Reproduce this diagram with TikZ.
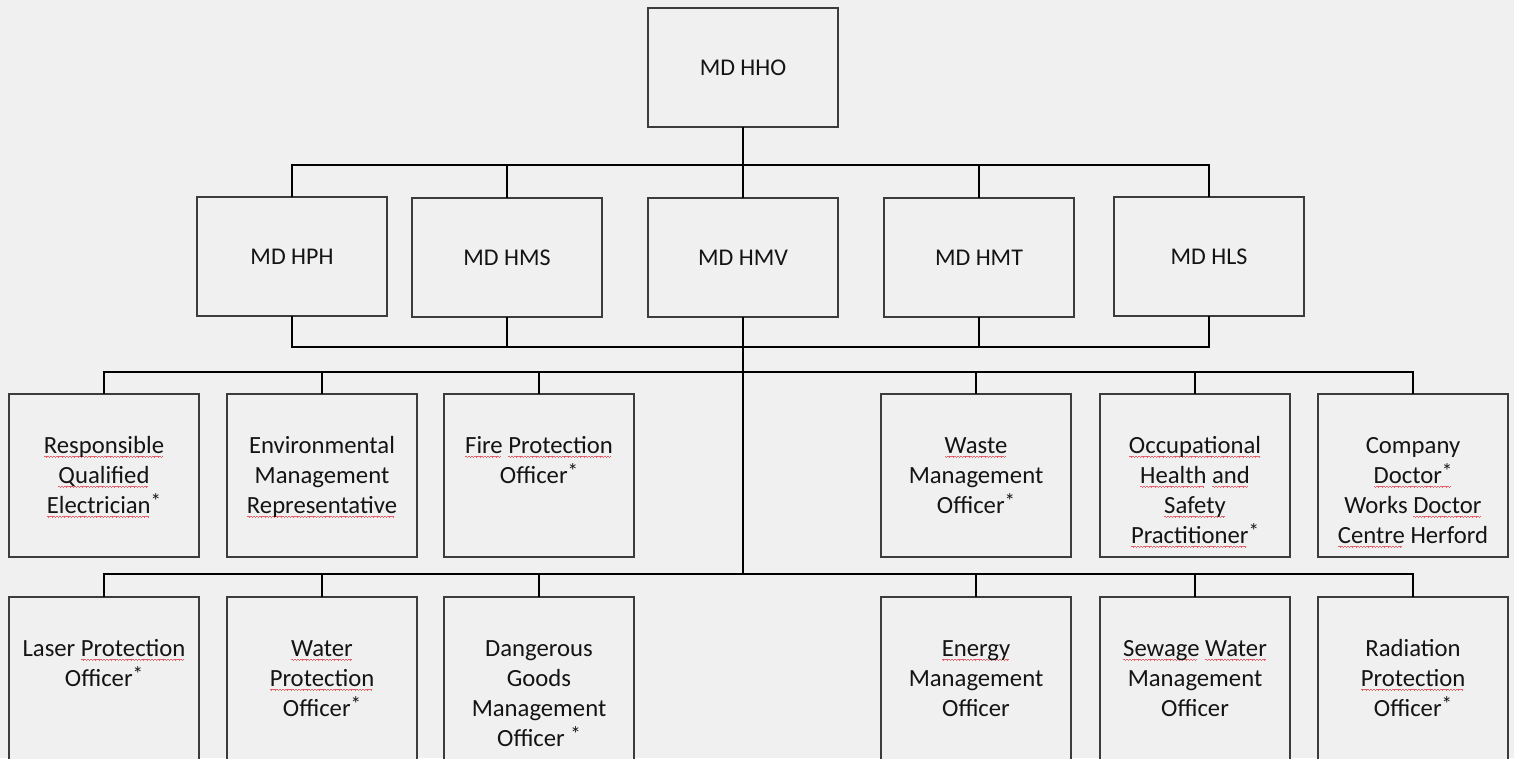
\documentclass[tikz,border=0pt]{standalone}
\usepackage{fontspec}
\setmainfont{Carlito}
\definecolor{bg}{RGB}{240,240,240}
\definecolor{boxline}{RGB}{60,60,60}
\definecolor{txt}{RGB}{20,20,20}
\definecolor{wave}{RGB}{230,95,105}
\newsavebox\spbox
\newcommand\spellmark[1]{\sbox\spbox{#1}\rlap{\hbox to\wd\spbox{\color{wave}\leaders\hbox{\vrule width0.8pt height-2.4pt depth3.4pt\vrule width0.8pt height-3.0pt depth4.0pt\vrule width0.8pt height-3.6pt depth4.6pt\vrule width0.8pt height-3.0pt depth4.0pt}\hfill}}\usebox\spbox}
\newcommand\astr{\raisebox{4.5pt}{\fontsize{21}{21}\selectfont *}}
\begin{document}
\begin{tikzpicture}[x=1pt,y=-1pt,
  box/.style={draw=boxline,line width=1.4pt,fill=bg,minimum width=190pt,anchor=north west,inner sep=0pt,outer sep=0pt},
  mdbox/.style={box,minimum height=119pt,font=\fontsize{24}{29}\selectfont,text=txt},
  rbox/.style={box,minimum height=163pt},
  sbox/.style={box,minimum height=190pt},
  lbl/.style={anchor=north,align=center,inner sep=0pt,font=\fontsize{24.7}{30}\selectfont,text=txt},
  conn/.style={line width=2.7pt,draw=black}]
\useasboundingbox (0,0) rectangle (1514,758);
\fill[bg] (0,0) rectangle (1514,758);
\clip (0,0) rectangle (1514,758);

% level 1
\node[mdbox] (hho) at (648,8) {MD HHO};
% level 2
\node[mdbox] (hph) at (197,197) {MD HPH};
\node[mdbox] (hms) at (412,198) {MD HMS};
\node[mdbox] (hmv) at (648,198) {MD HMV};
\node[mdbox] (hmt) at (884,198) {MD HMT};
\node[mdbox] (hls) at (1114,197) {MD HLS};
% level 3
\node[rbox] (r1) at (9,394) {};
\node[rbox] (r2) at (227,394) {};
\node[rbox] (r3) at (444,394) {};
\node[rbox] (r4) at (881,394) {};
\node[rbox] (r5) at (1100,394) {};
\node[rbox] (r6) at (1318,394) {};
% level 4
\node[sbox] (s1) at (9,597) {};
\node[sbox] (s2) at (227,597) {};
\node[sbox] (s3) at (444,597) {};
\node[sbox] (s4) at (881,597) {};
\node[sbox] (s5) at (1100,597) {};
\node[sbox] (s6) at (1318,597) {};

% labels
\node[lbl] (l1) at ([yshift=-38pt]r1.north) {\strut\spellmark{Responsible}\\\spellmark{Qualified}\\\spellmark{Electrician}\astr};
\node[lbl] (l2) at ([yshift=-38pt]r2.north) {\strut Environmental\\Management\\\spellmark{Representative}};
\node[lbl] (l3) at ([yshift=-38pt]r3.north) {\strut\spellmark{Fire} \spellmark{Protection}\\Officer\astr};
\node[lbl] (l4) at ([yshift=-38pt]r4.north) {\strut\spellmark{Waste}\\Management\\Officer\astr};
\node[lbl] (l5) at ([yshift=-38pt]r5.north) {\strut\spellmark{Occupational}\\\spellmark{Health} \spellmark{and}\\\spellmark{Safety}\\\spellmark{Practitioner}\astr};
\node[lbl] (l6) at ([yshift=-38pt]r6.north) {\strut Company\\\spellmark{Doctor\astr}\\Works \spellmark{Doctor}\\\spellmark{Centre} Herford};
\node[lbl] (m1) at ([yshift=-38pt]s1.north) {\strut Laser \spellmark{Protection}\\Officer\astr};
\node[lbl] (m2) at ([yshift=-38pt]s2.north) {\strut\spellmark{Water}\\\spellmark{Protection}\\Officer\astr};
\node[lbl] (m3) at ([yshift=-38pt]s3.north) {\strut Dangerous\\Goods\\Management\\Officer \astr};
\node[lbl] (m4) at ([yshift=-38pt]s4.north) {\strut\spellmark{Energy}\\Management\\Officer};
\node[lbl] (m5) at ([yshift=-38pt]s5.north) {\strut\spellmark{Sewage} \spellmark{Water}\\Management\\Officer};
\node[lbl] (m6) at ([yshift=-38pt]s6.north) {\strut Radiation\\\spellmark{Protection}\\Officer\astr};

% buses
\coordinate (t1) at (743,165);
\coordinate (t2) at (743,347);
\coordinate (t3) at (743,372);
\coordinate (t4) at (743,574);

\draw[conn] (hho.south) -- (hmv.north);
\draw[conn] (hph.north) |- (t1) -| (hls.north);
\draw[conn] (hms.north) -- (hms.north |- t1);
\draw[conn] (hmt.north) -- (hmt.north |- t1);

\draw[conn] (hph.south) |- (t2) -| (hls.south);
\draw[conn] (hms.south) -- (hms.south |- t2);
\draw[conn] (hmt.south) -- (hmt.south |- t2);
\draw[conn] (hmv.south) -- (t4);

\draw[conn] (r1.north) |- (t3) -| (r6.north);
\draw[conn] (r2.north) -- (r2.north |- t3);
\draw[conn] (r3.north) -- (r3.north |- t3);
\draw[conn] (r4.north) -- (r4.north |- t3);
\draw[conn] (r5.north) -- (r5.north |- t3);

\draw[conn] (s1.north) |- (t4) -| (s6.north);
\draw[conn] (s2.north) -- (s2.north |- t4);
\draw[conn] (s3.north) -- (s3.north |- t4);
\draw[conn] (s4.north) -- (s4.north |- t4);
\draw[conn] (s5.north) -- (s5.north |- t4);
\end{tikzpicture}
\end{document}
